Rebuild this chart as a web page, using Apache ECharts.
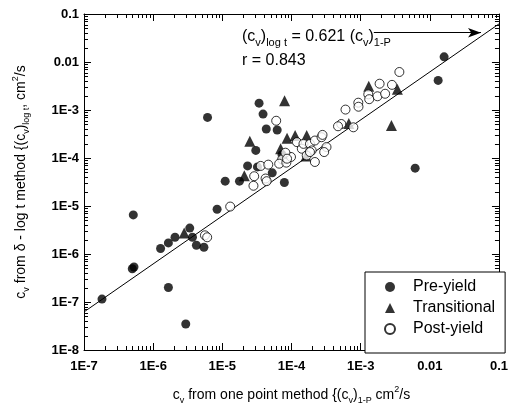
<!DOCTYPE html>
<html>
<head>
<meta charset="utf-8">
<script src="https://cdn.jsdelivr.net/npm/echarts@6/dist/echarts.min.js"></script>
<style>
  html, body { margin: 0; padding: 0; background: #fff; }
  #chart { width: 511px; height: 410px; }
</style>
</head>
<body>
<div id="chart"></div>
<script>
// --- data (cm2/s) ---
var preX = [1.82e-7, 5.16e-7, 5.28e-7, 4.99e-7, 1.66e-6, 2.96e-6, 1.28e-6, 1.66e-6, 2.07e-6, 3.38e-6,
            3.70e-6, 4.22e-6, 5.42e-6, 8.40e-6, 6.11e-6, 3.40e-5, 3.88e-5, 4.32e-5, 6.21e-5, 3.05e-5,
            2.32e-5, 3.22e-5, 5.27e-5, 1.10e-5, 1.77e-5, 7.89e-5, 1.61e-2, 1.32e-2, 6.14e-3, 7.3e-5];
var preY = [1.15e-7, 6.53e-6, 5.35e-7, 4.93e-7, 2.0e-7, 3.49e-8, 1.30e-6, 1.70e-6, 2.23e-6, 3.47e-6,
            2.23e-6, 1.52e-6, 1.38e-6, 8.55e-6, 7.02e-4, 1.39e-3, 8.22e-4, 4.03e-4, 3.84e-4, 1.44e-4,
            6.84e-5, 6.52e-5, 4.90e-5, 3.29e-5, 3.29e-5, 3.09e-5, 1.28e-2, 4.14e-3, 6.15e-5, 1.17e-4];

var triX = [2.81e-6, 7.94e-5, 2.50e-5, 2.08e-5, 8.63e-5, 1.13e-4, 1.66e-4, 6.97e-5, 1.62e-4, 1.31e-3,
            3.40e-3, 2.79e-3, 6.74e-4];
var triY = [2.73e-6, 1.56e-3, 2.24e-4, 4.25e-5, 2.59e-4, 2.93e-4, 2.93e-4, 1.56e-4, 1.10e-4, 3.11e-3,
            2.70e-3, 4.75e-4, 5.23e-4];

var postX = [5.61e-6, 6.04e-6, 1.30e-5, 6.01e-5, 3.59e-5, 4.62e-5, 2.89e-5, 4.22e-5, 2.82e-5, 7.33e-5,
             6.64e-5, 8.43e-5, 9.84e-5, 1.20e-4, 1.41e-4, 1.49e-4, 1.85e-4, 2.18e-4, 2.72e-4, 1.96e-4,
             1.66e-4, 2.18e-4, 3.63e-3, 1.88e-3, 2.84e-3, 1.29e-3, 1.75e-3, 2.26e-3, 1.33e-3, 9.25e-4,
             9.31e-4, 6.04e-4, 5.25e-4, 4.71e-4, 7.85e-4, 2.81e-4, 8.17e-5, 8.63e-5, 4.38e-5, 3.21e-4,
             2.97e-4, 1.85e-4];
var postY = [2.45e-6, 2.23e-6, 9.73e-6, 5.97e-4, 6.84e-5, 7.27e-5, 4.17e-5, 3.74e-5, 2.64e-5, 9.35e-5,
             7.62e-5, 8.00e-5, 1.05e-4, 2.14e-4, 1.56e-4, 1.97e-4, 1.97e-4, 2.31e-4, 2.71e-4, 1.44e-4,
             1.13e-4, 8.26e-5, 6.19e-3, 3.53e-3, 3.34e-3, 2.12e-3, 1.93e-3, 2.18e-3, 1.68e-3, 1.42e-3,
             1.17e-3, 1.02e-3, 5.11e-4, 4.58e-4, 4.36e-4, 3.03e-4, 1.29e-4, 9.67e-5, 3.29e-5, 1.69e-4,
             1.33e-4, 1.33e-4];

// fitted line (cv)log t = 0.621 (cv)1-P, end points
var fitX = [1e-7, 0.1];
var fitY = [6.21e-8, 0.0621];

// arrow from the equation to the line
var arrowX = [1.55e-3, 0.055];
var arrowY = [0.0407, 0.0407];

var xRange = [1e-7, 0.1];
var yRange = [1e-8, 0.1];
var minorMult = [2, 3, 4, 5, 6, 7, 8, 9];

var FONT = '"Liberation Sans", Arial, sans-serif';

function zip(a, b) {
  return a.map(function(v, i) { return [v, b[i]]; });
}

function tickFmt(v) {
  var e = Math.round(Math.log10(v));
  if (e >= -2) return String(Number(v.toPrecision(1)));
  return '1E' + e;
}

function decadesMinor(range) {
  var out = [];
  var lo = Math.round(Math.log10(range[0]));
  var hi = Math.round(Math.log10(range[1]));
  for (var e = lo; e < hi; e++) {
    minorMult.forEach(function(m) { out.push(m * Math.pow(10, e)); });
  }
  return out;
}
var xMinor = decadesMinor(xRange);
var yMinor = decadesMinor(yRange);

var subRich = {
  sub: { fontSize: 9, lineHeight: 10, verticalAlign: 'bottom', fontFamily: FONT, color: '#000' },
  sup: { fontSize: 9, lineHeight: 10, verticalAlign: 'top', fontFamily: FONT, color: '#000' }
};
var bigRich = {
  sub: { fontSize: 11, lineHeight: 11, verticalAlign: 'bottom', fontFamily: FONT, fill: '#000' }
};

var chart = echarts.init(document.getElementById('chart'), null, { renderer: 'canvas' });

var axisCommon = {
  type: 'log',
  logBase: 10,
  axisLine: { show: true, onZero: false, lineStyle: { color: '#000', width: 1 } },
  axisTick: { show: true, inside: true, length: 7, lineStyle: { color: '#000' } },
  splitLine: { show: false }
};

chart.setOption({
  animation: false,
  backgroundColor: '#fff',
  grid: { left: 84, right: 6, top: 14, bottom: 57, containLabel: false },
  xAxis: [
    Object.assign({}, axisCommon, {
      min: xRange[0], max: xRange[1], position: 'bottom',
      axisLabel: { color: '#000', fontFamily: FONT, fontSize: 13, fontWeight: 'bold', margin: 10, formatter: tickFmt },
      name: 'c{sub|v} from one point method {(c{sub|v}){sub|1-P} cm{sup|2}/s',
      nameLocation: 'middle', nameGap: 35,
      nameTextStyle: { color: '#000', fontFamily: FONT, fontSize: 14, lineHeight: 20, rich: subRich }
    }),
    Object.assign({}, axisCommon, {
      min: xRange[0], max: xRange[1], position: 'top',
      axisLabel: { show: false }
    })
  ],
  yAxis: [
    Object.assign({}, axisCommon, {
      min: yRange[0], max: yRange[1], position: 'left',
      axisLabel: { color: '#000', fontFamily: FONT, fontSize: 13, fontWeight: 'bold', margin: 5, formatter: tickFmt },
      name: 'c{sub|v} from \u03b4 - log t method {(c{sub|v}){sub|log t}, cm{sup|2}/s',
      nameLocation: 'middle', nameRotate: 90, nameGap: 53,
      nameTextStyle: { color: '#000', fontFamily: FONT, fontSize: 14, lineHeight: 20, rich: subRich }
    }),
    Object.assign({}, axisCommon, {
      min: yRange[0], max: yRange[1], position: 'right',
      axisLabel: { show: false }
    })
  ],
  legend: {
    orient: 'vertical',
    left: 365, top: 272,
    padding: [7, 10, 16, 19],
    itemWidth: 10, itemHeight: 10, itemGap: 5,
    borderColor: '#000', borderWidth: 1, backgroundColor: '#fff',
    textStyle: { color: '#000', fontFamily: FONT, fontSize: 16, lineHeight: 16, padding: [0, 0, 0, 13] },
    data: ['Pre-yield', 'Transitional', 'Post-yield']
  },
  graphic: [
    {
      type: 'text', left: 242, top: 26, z: 10,
      style: {
        text: '(c{sub|v}){sub|log t} = 0.621 (c{sub|v}){sub|1-P}',
        fontFamily: FONT, fontSize: 16, lineHeight: 22, fill: '#000', rich: bigRich
      }
    },
    {
      type: 'text', left: 242, top: 53, z: 10,
      style: { text: 'r = 0.843', fontFamily: FONT, fontSize: 16, fill: '#000' }
    }
  ],
  series: [
    {
      // log-spaced minor ticks on all four sides
      type: 'custom', silent: true, z: 1,
      data: [[1e-6, 1e-6]],
      renderItem: function(params, api) {
        var p0 = api.coord([xRange[0], yRange[0]]);
        var p1 = api.coord([xRange[1], yRange[1]]);
        var kids = [];
        var len = 4;
        xMinor.forEach(function(v) {
          var x = Math.round(api.coord([v, yRange[0]])[0]) + 0.5;
          kids.push({ type: 'line', shape: { x1: x, y1: p0[1], x2: x, y2: p0[1] - len } });
          kids.push({ type: 'line', shape: { x1: x, y1: p1[1], x2: x, y2: p1[1] + len } });
        });
        yMinor.forEach(function(v) {
          var y = Math.round(api.coord([xRange[0], v])[1]) + 0.5;
          kids.push({ type: 'line', shape: { x1: p0[0], y1: y, x2: p0[0] + len, y2: y } });
          kids.push({ type: 'line', shape: { x1: p1[0], y1: y, x2: p1[0] - len, y2: y } });
        });
        kids.forEach(function(k) { k.style = { stroke: '#000', lineWidth: 1 }; });
        return { type: 'group', children: kids };
      }
    },
    {
      type: 'line', name: 'fit', data: zip(fitX, fitY),
      showSymbol: false, symbol: 'none', silent: true, z: 2,
      lineStyle: { color: '#000', width: 1 },
      markLine: {
        silent: true, animation: false,
        symbol: ['none', 'arrow'], symbolSize: [7, 13],
        label: { show: false },
        lineStyle: { color: '#000', width: 1, type: 'solid' },
        data: [[{ coord: [arrowX[0], arrowY[0]] }, { coord: [arrowX[1], arrowY[1]] }]]
      }
    },
    {
      type: 'scatter', name: 'Pre-yield', data: zip(preX, preY),
      symbol: 'circle', symbolSize: 9, z: 3,
      itemStyle: { color: '#000' }
    },
    {
      type: 'scatter', name: 'Transitional', data: zip(triX, triY),
      symbol: 'triangle', symbolSize: 11, z: 3,
      itemStyle: { color: '#000' }
    },
    {
      type: 'scatter', name: 'Post-yield', data: zip(postX, postY),
      symbol: 'circle', symbolSize: 9, z: 4,
      itemStyle: { color: '#fff', borderColor: '#000', borderWidth: 1 }
    }
  ]
});
</script>
</body>
</html>
